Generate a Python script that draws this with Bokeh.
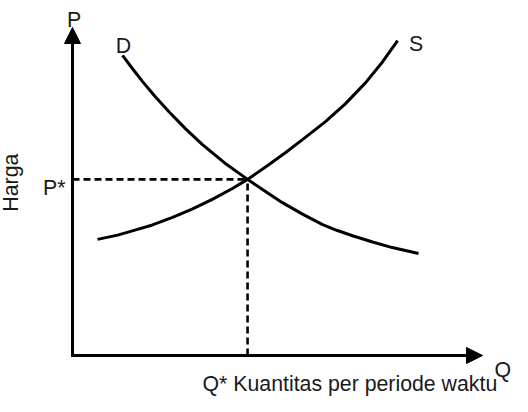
import math
from bokeh.plotting import figure
from bokeh.models import Range1d, Arrow, NormalHead, Label
from bokeh.embed import file_html
from bokeh.resources import INLINE

# ---- data (quantity and price on 0..100 scales) ----
demand_q = [12.2, 14.6, 17.1, 20.2, 23.7, 27.6, 31.7, 37.1, 42.7, 46.8, 51.2,
            56.1, 61.0, 64.6, 68.3, 73.2, 78.0, 84.4]
demand_p = [91.5, 87.5, 83.5, 78.9, 74.1, 69.1, 64.3, 58.7, 53.7, 50.2, 46.6,
            43.1, 39.9, 38.1, 36.5, 34.6, 32.9, 31.1]
supply_q = [6.1, 11.0, 14.6, 19.5, 24.4, 29.3, 34.1, 39.0, 42.7, 47.6, 52.0,
            56.8, 61.7, 66.6, 71.5, 75.6, 79.3]
supply_p = [35.4, 36.7, 38.0, 39.8, 42.1, 44.7, 47.6, 50.9, 53.7, 57.9, 61.9,
            66.5, 71.3, 76.8, 83.2, 89.5, 96.0]
q_star = 42.7
p_star = 53.7
axis_max = [100, 100]
labels = {"P": "P", "Q": "Q", "D": "D", "S": "S", "pstar": "P*",
          "xlabel": "Q* Kuantitas per periode waktu", "ylabel": "Harga"}

FONT = "Liberation Sans"
FS = "21.3px"
TXT = "#1a1a1a"

p = figure(width=512, height=396, output_backend="svg", toolbar_location=None,
           x_range=Range1d(-72 / 4.1, 440 / 4.1), y_range=Range1d(-41 / 3.28, 355 / 3.28),
           min_border=0, x_axis_type=None, y_axis_type=None)
p.outline_line_color = None
p.grid.visible = False
p.background_fill_color = "white"
p.border_fill_color = "white"

# axes with arrowheads
p.add_layout(Arrow(end=NormalHead(size=16, fill_color="black", line_color="black", line_width=1),
                   x_start=0, y_start=0, x_end=0, y_end=axis_max[1],
                   line_width=3, line_color="black", line_cap="square"))
p.add_layout(Arrow(end=NormalHead(size=16, fill_color="black", line_color="black", line_width=1),
                   x_start=0, y_start=0, x_end=axis_max[0], y_end=0,
                   line_width=3, line_color="black", line_cap="square"))

# equilibrium guides
p.line([0, q_star], [p_star, p_star], line_color="black", line_width=2.6, line_dash="7 4")
p.line([q_star, q_star], [0, p_star], line_color="black", line_width=2.6, line_dash="7 4")

# curves
p.line(demand_q, demand_p, line_color="black", line_width=3, line_join="round")
p.line(supply_q, supply_p, line_color="black", line_width=3, line_join="round")

def lab(text, x, y, align="center", angle=0.0):
    p.add_layout(Label(x=x, y=y, text=text, text_font=FONT, text_font_size=FS,
                       text_color=TXT, text_align=align, text_baseline="alphabetic",
                       angle=angle))

lab(labels["P"], 0.4, 102.4)
lab(labels["D"], 12.4, 94.5)
lab(labels["S"], 83.8, 95.1)
lab(labels["pstar"], -1.7, 51.2, align="right")
lab(labels["Q"], 102.9, -4.3, align="left")
lab(labels["xlabel"], 31.7, -8.8, align="left")
lab(labels["ylabel"], -14.9, 52.7, angle=math.pi / 2)

open("out.html", "w").write(file_html(p, INLINE))
